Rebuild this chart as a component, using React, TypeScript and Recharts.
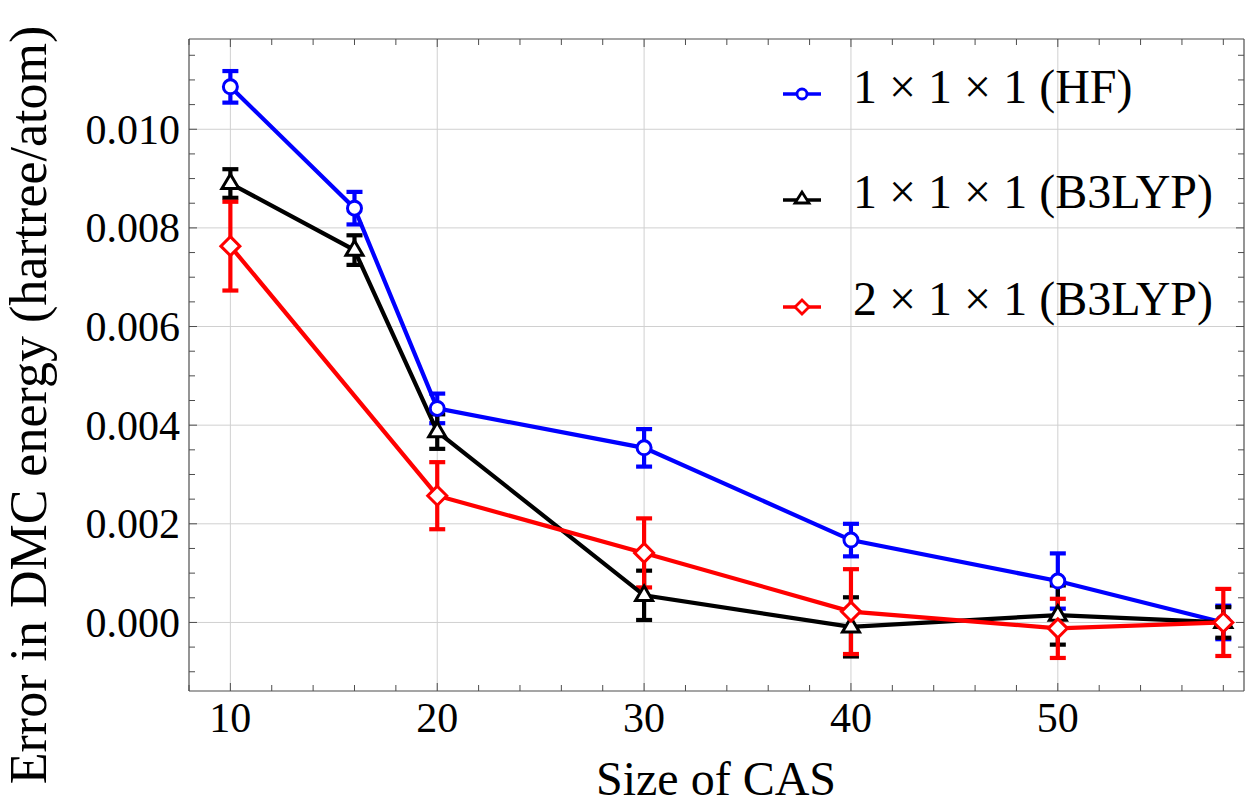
import { LineChart, Line, XAxis, YAxis, ErrorBar, ReferenceLine } from "recharts";

// CAS sizes and DMC energy errors (hartree/atom)
const casSize = [10, 16, 20, 30, 40, 50, 58];
const hf111 = [0.01086, 0.0084, 0.00434, 0.00354, 0.00167, 0.00084, 0.0];
const hf111Err = [0.00032, 0.00033, 0.0003, 0.00038, 0.00033, 0.00056, 0.00034];
const b3lyp111 = [0.0089, 0.00755, 0.00387, 0.00055, -0.00009, 0.00015, 0.0];
const b3lyp111Err = [0.00029, 0.0003, 0.00035, 0.0005, 0.0006, 0.0006, 0.00031];

const casSize211 = [10, 20, 30, 40, 50, 58];
const b3lyp211 = [0.00763, 0.00257, 0.00141, 0.00022, -0.00012, 0.0];
const b3lyp211Err = [0.0009, 0.00068, 0.0007, 0.00086, 0.0006, 0.00068];

const seriesNames = ["1 × 1 × 1 (HF)", "1 × 1 × 1 (B3LYP)", "2 × 1 × 1 (B3LYP)"];

// ticks
const xTicks = [8, 10, 12, 14, 16, 18, 20, 22, 24, 26, 28, 30, 32, 34, 36, 38, 40, 42, 44, 46, 48, 50, 52, 54, 56, 58];
const xMajor = [10, 20, 30, 40, 50];
const yTicks = [
  -0.001, -0.0005, 0, 0.0005, 0.001, 0.0015, 0.002, 0.0025, 0.003, 0.0035, 0.004, 0.0045, 0.005,
  0.0055, 0.006, 0.0065, 0.007, 0.0075, 0.008, 0.0085, 0.009, 0.0095, 0.01, 0.0105, 0.011, 0.0115,
];
const yMajor = [0, 0.002, 0.004, 0.006, 0.008, 0.01];

const mainData = casSize.map((x, i) => ({
  x,
  hf: hf111[i],
  hfErr: hf111Err[i],
  b3: b3lyp111[i],
  b3Err: b3lyp111Err[i],
}));
const redData = casSize211.map((x, i) => ({ x, b2: b3lyp211[i], b2Err: b3lyp211Err[i] }));

const BLUE = "#0000ff";
const BLACK = "#000000";
const RED = "#ff0000";
const FRAME = "#4d4d4d";
const GRID = "#d0d0d0";
const serif = "'Liberation Serif', 'DejaVu Serif', serif";

const LINE_W = 4.2;
const BAR_W = 4.2;
const CAP_W = 8;

const isYMajor = (v: number) => yMajor.some((m) => Math.abs(m - v) < 1e-9);

const BottomTick = (props: any) => {
  const { x, y, payload } = props;
  const major = xMajor.includes(payload.value);
  return (
    <g>
      <line x1={x} x2={x} y1={y} y2={y - (major ? 8 : 6)} stroke={FRAME} />
      {major && (
        <text x={x} y={y + 41} textAnchor="middle" fontSize={42} fontFamily={serif} fill="#000">
          {payload.value}
        </text>
      )}
    </g>
  );
};

const TopTick = (props: any) => {
  const { x, y, payload } = props;
  const major = xMajor.includes(payload.value);
  return <line x1={x} x2={x} y1={y} y2={y + (major ? 8 : 6)} stroke={FRAME} />;
};

const LeftTick = (props: any) => {
  const { x, y, payload } = props;
  const major = isYMajor(payload.value);
  return (
    <g>
      <line x1={x} x2={x + (major ? 8 : 6)} y1={y} y2={y} stroke={FRAME} />
      {major && (
        <text x={x - 9} y={y + 14.5} textAnchor="end" fontSize={42} fontFamily={serif} fill="#000">
          {payload.value.toFixed(3)}
        </text>
      )}
    </g>
  );
};

const RightTick = (props: any) => {
  const { x, y, payload } = props;
  const major = isYMajor(payload.value);
  return <line x1={x} x2={x - (major ? 8 : 6)} y1={y} y2={y} stroke={FRAME} />;
};

// markers
const circleDot = (r: number, sw: number) => (p: any) =>
  <circle key={p.index} cx={p.cx} cy={p.cy} r={r} fill="#fff" stroke={BLUE} strokeWidth={sw} />;

const triangleDot = (s: number, sw: number) => (p: any) => (
  <polygon
    key={p.index}
    points={`${p.cx},${p.cy - s * 1.1} ${p.cx - s},${p.cy + s * 0.6} ${p.cx + s},${p.cy + s * 0.6}`}
    fill="#fff"
    stroke={BLACK}
    strokeWidth={sw}
    strokeLinejoin="miter"
  />
);

const diamondDot = (s: number, sw: number) => (p: any) => (
  <polygon
    key={p.index}
    points={`${p.cx},${p.cy - s} ${p.cx + s},${p.cy} ${p.cx},${p.cy + s} ${p.cx - s},${p.cy}`}
    fill="#fff"
    stroke={RED}
    strokeWidth={sw}
  />
);

const YTitle = () => (
  <text
    transform="translate(46,405) rotate(-90)"
    textAnchor="middle"
    fontSize={52}
    fontFamily={serif}
    fill="#000"
  >
    Error in DMC energy (hartree/atom)
  </text>
);

const XTitle = () => (
  <text x={716} y={795} textAnchor="middle" fontSize={48} fontFamily={serif} fill="#000">
    Size of CAS
  </text>
);

const legendIcons = [
  { color: BLUE, y: 94, kind: "circle" },
  { color: BLACK, y: 200, kind: "triangle" },
  { color: RED, y: 307, kind: "diamond" },
];
const legendBaselines = [103, 208, 315];

const ChartLegend = () => (
  <svg width={1245} height={805} style={{ position: "absolute", left: 0, top: 0, pointerEvents: "none" }}>
    {seriesNames.map((name, i) => {
      const ic = legendIcons[i];
      const cx = 802;
      const cy = ic.y;
      return (
        <g key={name}>
          <line x1={783} x2={821} y1={cy} y2={cy} stroke={ic.color} strokeWidth={3.5} />
          {ic.kind === "circle" && <circle cx={cx} cy={cy} r={5} fill="#fff" stroke={ic.color} strokeWidth={2.8} />}
          {ic.kind === "triangle" && (
            <polygon
              points={`${cx},${cy - 8} ${cx - 7},${cy + 3} ${cx + 7},${cy + 3}`}
              fill="#fff"
              stroke={ic.color}
              strokeWidth={2.8}
            />
          )}
          {ic.kind === "diamond" && (
            <polygon
              points={`${cx},${cy - 7} ${cx + 7},${cy} ${cx},${cy + 7} ${cx - 7},${cy}`}
              fill="#fff"
              stroke={ic.color}
              strokeWidth={2.8}
            />
          )}
          <text x={853} y={legendBaselines[i]} fontSize={48} fontFamily={serif} fill="#000">
            {name}
          </text>
        </g>
      );
    })}
  </svg>
);

export default function App() {
  return (
    <div style={{ position: "relative", width: 1245, height: 805, background: "#fff" }}>
      <style>{`body{margin:0}`}</style>
      <LineChart width={1245} height={805} data={mainData} margin={{ top: 0, right: 0, bottom: 0, left: 0 }}>
        <XAxis
          xAxisId="b"
          dataKey="x"
          type="number"
          domain={[8, 59]}
          allowDataOverflow
          ticks={xTicks}
          interval={0}
          height={114}
          tickSize={0}
          tickMargin={0}
          tick={<BottomTick />}
          axisLine={{ stroke: FRAME, strokeWidth: 1.2 }}
          label={{ content: () => <XTitle /> }}
        />
        <XAxis
          xAxisId="t"
          orientation="top"
          dataKey="x"
          type="number"
          domain={[8, 59]}
          allowDataOverflow
          ticks={xTicks}
          interval={0}
          height={39}
          tickSize={0}
          tickMargin={0}
          tick={<TopTick />}
          axisLine={{ stroke: FRAME, strokeWidth: 1.2 }}
        />
        <YAxis
          yAxisId="l"
          type="number"
          domain={[-0.00139, 0.01183]}
          allowDataOverflow
          ticks={yTicks}
          interval={0}
          width={189}
          tickSize={0}
          tickMargin={0}
          tick={<LeftTick />}
          axisLine={{ stroke: FRAME, strokeWidth: 1.2 }}
          label={{ content: () => <YTitle /> }}
        />
        <YAxis
          yAxisId="r"
          orientation="right"
          type="number"
          domain={[-0.00139, 0.01183]}
          allowDataOverflow
          ticks={yTicks}
          interval={0}
          width={1}
          tickSize={0}
          tickMargin={0}
          tick={<RightTick />}
          axisLine={{ stroke: FRAME, strokeWidth: 1.2 }}
        />

        {xMajor.map((v) => (
          <ReferenceLine key={"gx" + v} x={v} xAxisId="b" yAxisId="l" stroke={GRID} strokeWidth={1} />
        ))}
        {yMajor.map((v) => (
          <ReferenceLine key={"gy" + v} y={v} xAxisId="b" yAxisId="l" stroke={GRID} strokeWidth={1} />
        ))}

        {/* hidden series so the top / right frame axes have something attached */}
        <Line
          xAxisId="t"
          yAxisId="r"
          dataKey="hf"
          stroke="none"
          dot={false}
          activeDot={false}
          legendType="none"
          isAnimationActive={false}
        />

        {/* error bars drawn first, below the lines */}
        <Line xAxisId="b" yAxisId="l" dataKey="hf" stroke="none" dot={false} activeDot={false} isAnimationActive={false}>
          <ErrorBar dataKey="hfErr" direction="y" width={CAP_W} strokeWidth={BAR_W} stroke={BLUE} />
        </Line>
        <Line xAxisId="b" yAxisId="l" dataKey="b3" stroke="none" dot={false} activeDot={false} isAnimationActive={false}>
          <ErrorBar dataKey="b3Err" direction="y" width={CAP_W} strokeWidth={BAR_W} stroke={BLACK} />
        </Line>
        <Line
          xAxisId="b"
          yAxisId="l"
          data={redData}
          dataKey="b2"
          stroke="none"
          dot={false}
          activeDot={false}
          isAnimationActive={false}
        >
          <ErrorBar dataKey="b2Err" direction="y" width={CAP_W} strokeWidth={BAR_W} stroke={RED} />
        </Line>

        <Line
          xAxisId="b"
          yAxisId="l"
          type="linear"
          dataKey="hf"
          stroke={BLUE}
          strokeWidth={LINE_W}
          dot={circleDot(7, 3)}
          activeDot={false}
          isAnimationActive={false}
        />
        <Line
          xAxisId="b"
          yAxisId="l"
          type="linear"
          dataKey="b3"
          stroke={BLACK}
          strokeWidth={LINE_W}
          dot={triangleDot(8.5, 3)}
          activeDot={false}
          isAnimationActive={false}
        />
        <Line
          xAxisId="b"
          yAxisId="l"
          type="linear"
          data={redData}
          dataKey="b2"
          stroke={RED}
          strokeWidth={LINE_W}
          dot={diamondDot(9.5, 3)}
          activeDot={false}
          isAnimationActive={false}
        />
      </LineChart>
      <ChartLegend />
    </div>
  );
}
